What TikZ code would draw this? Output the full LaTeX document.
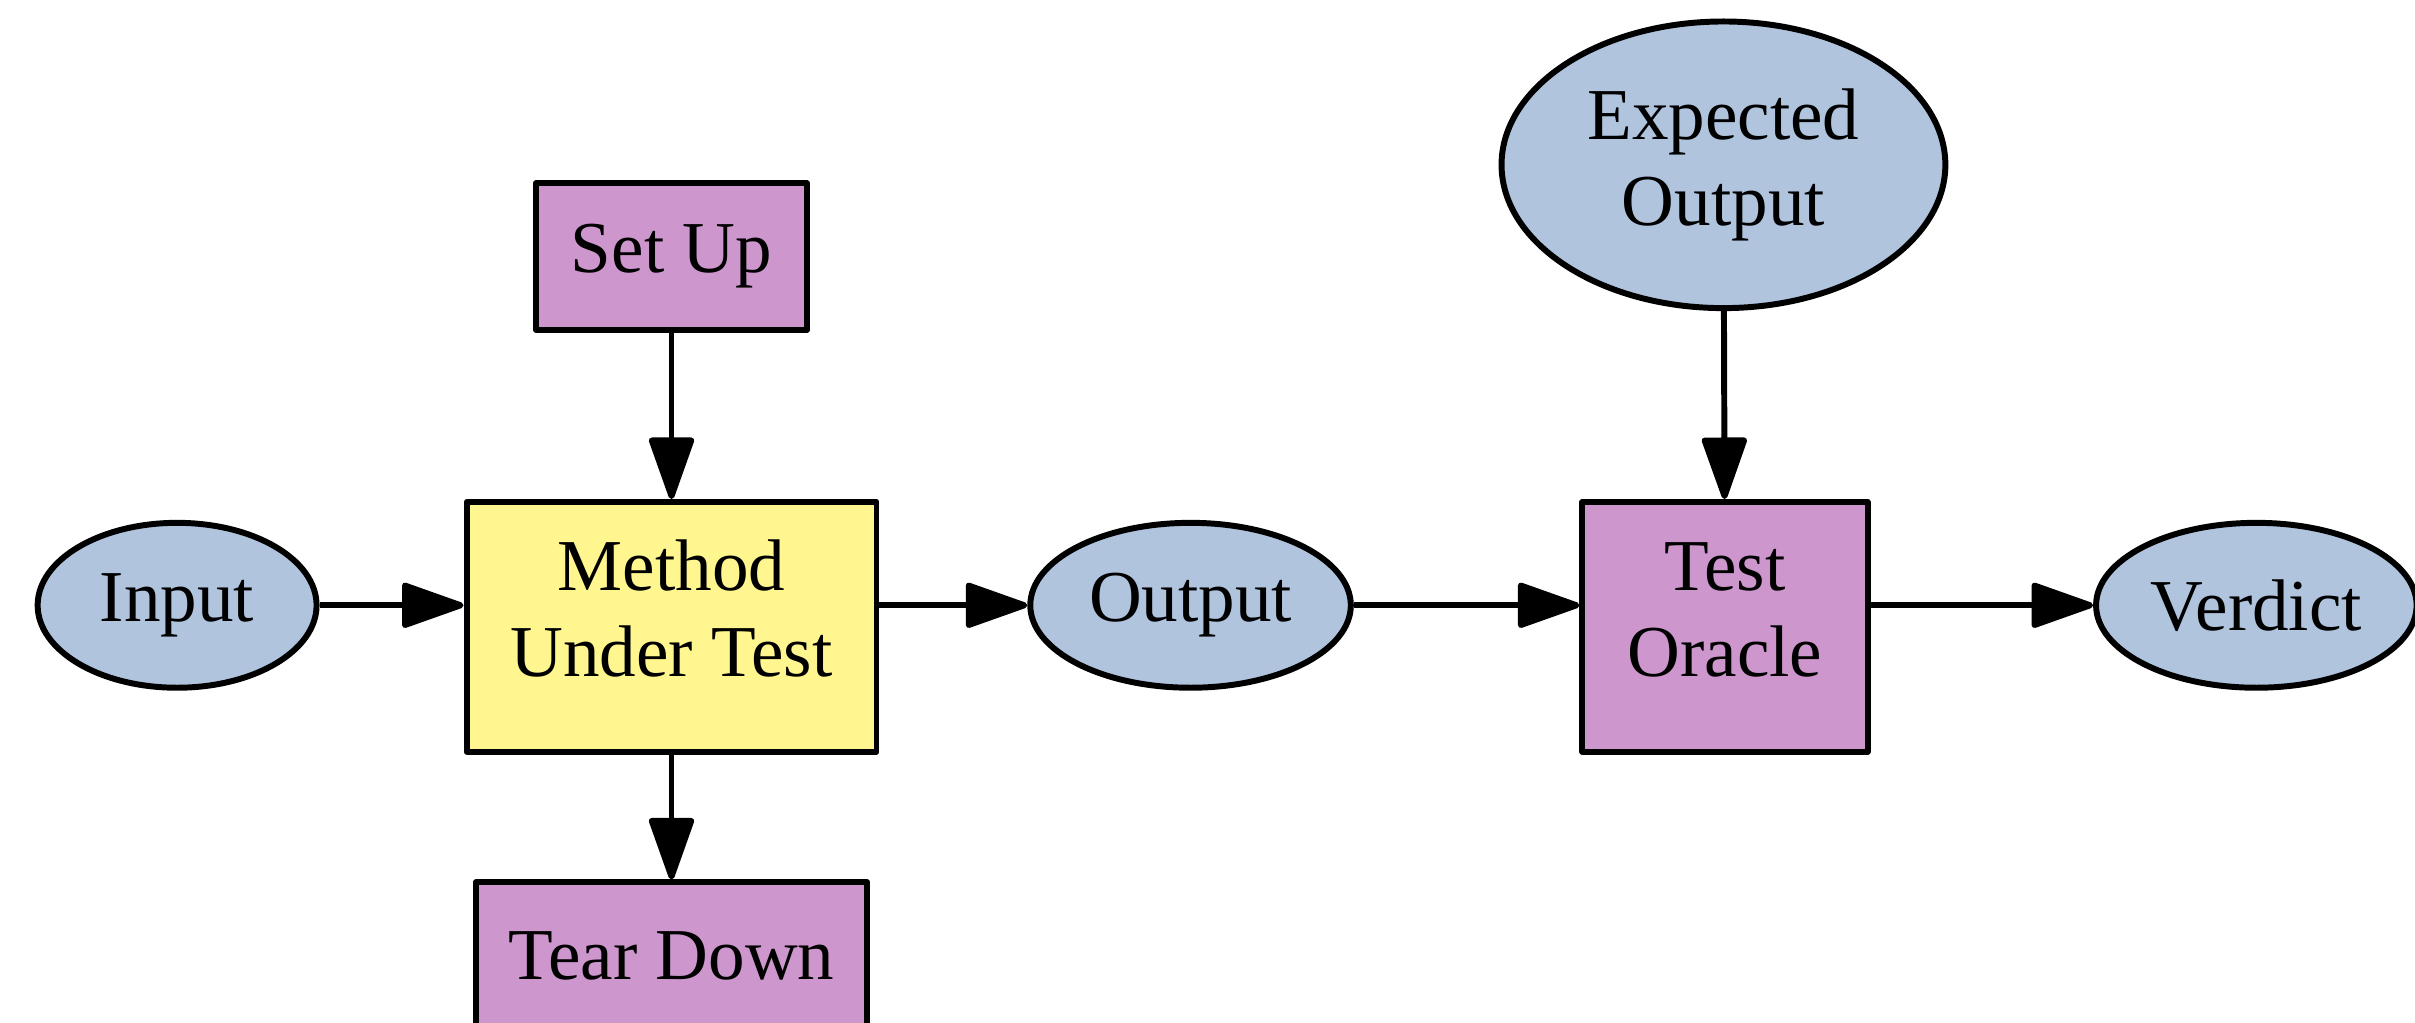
\documentclass[tikz,border=0pt]{standalone}
\usepackage{fontspec}
\setmainfont{Liberation Serif}
\usetikzlibrary{arrows.meta,positioning,shapes.geometric}
\definecolor{steel}{HTML}{B0C4DE}
\definecolor{plum}{HTML}{CD96CD}
\definecolor{khaki}{HTML}{FFF68F}
\tikzset{
  databox/.style={
    ellipse, draw=black, fill=steel, line width=1.1pt,
    inner sep=0pt, align=center,
    font=\fontsize{13.5}{15.8}\selectfont
  },
  stepbox/.style={
    rectangle, draw=black, fill=#1, line width=1.1pt, line join=round,
    inner sep=0pt, align=center,
    font=\fontsize{13.5}{15.8}\selectfont
  },
  stepbox/.default=plum,
  flowarrow/.style={
    -{Triangle[length=0.44cm, width=0.3cm, round]}, line width=1.1pt
  },
}

\begin{document}
\begin{tikzpicture}[x=0.01cm, y=-0.01cm]
  \useasboundingbox (0,0) rectangle (1568,664);
  \node[databox, minimum width=1.81cm, minimum height=1.07cm] (input) at (115,393) {Input};
  \node[stepbox=khaki, minimum width=2.66cm, text height=1.13cm, text depth=0.49cm] (mut) at (436,407) {Method\\Under Test};
  \node[stepbox, minimum width=1.76cm, minimum height=0.95cm, above=1.08cm of mut] (setup) {Set Up};
  \node[stepbox, minimum width=2.54cm, minimum height=0.95cm, below=0.81cm of mut] (teardown) {Tear Down};
  \node[databox, minimum width=2.08cm, minimum height=1.07cm] (output) at (773,393) {Output};
  \node[stepbox, minimum width=1.85cm, text height=1.13cm, text depth=0.49cm] (oracle) at (1120,407) {Test\\Oracle};
  \node[databox, minimum width=2.88cm, minimum height=1.86cm] (expected) at (1119,107) {Expected\\Output};
  \node[databox, minimum width=2.08cm, minimum height=1.07cm] (verdict) at (1465,393) {Verdict};
  \draw[flowarrow] (input.east) -- (input.east -| mut.west);
  \draw[flowarrow] (setup) -- (mut);
  \draw[flowarrow] (mut) -- (teardown);
  \draw[flowarrow] (output.west -| mut.east) -- (output.west);
  \draw[flowarrow] (output.east) -- (output.east -| oracle.west);
  \draw[flowarrow] (verdict.west -| oracle.east) -- (verdict.west);
  \draw[flowarrow] (expected) -- (oracle);
\end{tikzpicture}
\end{document}
